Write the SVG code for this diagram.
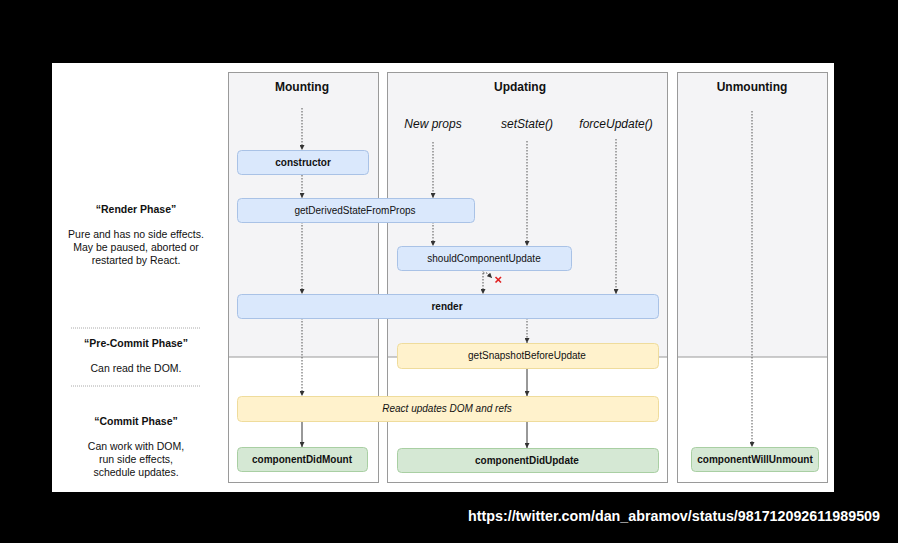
<svg xmlns="http://www.w3.org/2000/svg" width="898" height="543" viewBox="0 0 898 543">
<defs>
<marker id="ah" viewBox="0 0 6 6" markerWidth="5" markerHeight="5" refX="6" refY="3" orient="auto" markerUnits="userSpaceOnUse">
<path d="M0,0 L6,3 L0,6 z" fill="#333"/>
</marker>
<style>
text{font-family:"Liberation Sans",Arial,sans-serif;fill:#111}
.title{font-size:12px;font-weight:bold;text-anchor:middle}
.trig{font-size:12px;font-style:italic;text-anchor:middle}
.lbl{font-size:10px;text-anchor:middle}
.b{font-weight:bold}
.i{font-style:italic}
.side{font-size:10.5px;text-anchor:middle}
.col{fill:#f4f4f6;stroke:none}
.colb{fill:none;stroke:#9a9a9a;stroke-width:1}
.sep{stroke:#9a9a9a;stroke-width:1}
.blue{fill:#dae8fc;stroke:#a9c2e6;stroke-width:1}
.yellow{fill:#fff2cc;stroke:#efdc9c;stroke-width:1}
.green{fill:#d5e8d4;stroke:#a9cfa3;stroke-width:1}
.dot{fill:none;stroke:#555;stroke-width:1;stroke-dasharray:1.5 1.5}
.solid{fill:none;stroke:#333;stroke-width:1}
.pl{stroke:#aaa;stroke-width:1;stroke-dasharray:1 1}
</style>
</defs>
<rect x="0" y="0" width="898" height="543" fill="#000"/>
<rect x="52" y="63" width="782" height="429" fill="#fff"/>

<g id="col-mounting">
<rect class="col" x="228" y="72" width="150" height="285"/>
<line class="sep" x1="228" y1="357" x2="378" y2="357"/>
<rect class="colb" x="228.5" y="72.5" width="150" height="410"/>
<text class="title" x="302" y="91">Mounting</text>
</g>
<g id="col-updating">
<rect class="col" x="387" y="72" width="281" height="285"/>
<line class="sep" x1="387" y1="357" x2="668" y2="357"/>
<rect class="colb" x="387.5" y="72.5" width="280" height="410"/>
<text class="title" x="520" y="91">Updating</text>
<text class="trig" x="433" y="128">New props</text>
<text class="trig" x="527" y="128">setState()</text>
<text class="trig" x="616" y="128">forceUpdate()</text>
</g>
<g id="col-unmounting">
<rect class="col" x="677" y="72" width="150" height="285"/>
<line class="sep" x1="677" y1="357" x2="827" y2="357"/>
<rect class="colb" x="677.5" y="72.5" width="150" height="410"/>
<text class="title" x="752" y="91">Unmounting</text>
</g>

<g id="phases">
<text class="side b" x="136" y="213">“Render Phase”</text>
<text class="side" x="136" y="238">Pure and has no side effects.</text>
<text class="side" x="136" y="251">May be paused, aborted or</text>
<text class="side" x="136" y="264">restarted by React.</text>
<line class="pl" x1="71" y1="328" x2="200" y2="328"/>
<text class="side b" x="136" y="347">“Pre-Commit Phase”</text>
<text class="side" x="136" y="372">Can read the DOM.</text>
<line class="pl" x1="71" y1="386" x2="200" y2="386"/>
<text class="side b" x="136" y="425">“Commit Phase”</text>
<text class="side" x="136" y="450">Can work with DOM,</text>
<text class="side" x="136" y="463">run side effects,</text>
<text class="side" x="136" y="476">schedule updates.</text>
</g>

<g id="connectors">
<line class="dot" x1="302" y1="108" x2="302" y2="150" marker-end="url(#ah)"/>
<line class="dot" x1="302" y1="175" x2="302" y2="198" marker-end="url(#ah)"/>
<line class="dot" x1="302" y1="222" x2="302" y2="294" marker-end="url(#ah)"/>
<line class="dot" x1="302" y1="318" x2="302" y2="396" marker-end="url(#ah)"/>
<line class="solid" x1="302" y1="422" x2="302" y2="447" marker-end="url(#ah)"/>
<line class="dot" x1="433" y1="142" x2="433" y2="198" marker-end="url(#ah)"/>
<line class="dot" x1="433" y1="222" x2="433" y2="246" marker-end="url(#ah)"/>
<line class="dot" x1="527" y1="141" x2="527" y2="246" marker-end="url(#ah)"/>
<line class="dot" x1="616" y1="139" x2="616" y2="294" marker-end="url(#ah)"/>
<line class="dot" x1="483" y1="270" x2="483" y2="294" marker-end="url(#ah)"/>
<path class="dot" d="M483,273 H487 L492,278" marker-end="url(#ah)"/>
<g stroke="#e02020" stroke-width="1.6">
<line x1="495.5" y1="277" x2="501" y2="282.5"/>
<line x1="501" y1="277" x2="495.5" y2="282.5"/>
</g>
<line class="dot" x1="527" y1="318" x2="527" y2="343" marker-end="url(#ah)"/>
<line class="solid" x1="527" y1="369" x2="527" y2="396" marker-end="url(#ah)"/>
<line class="solid" x1="527" y1="422" x2="527" y2="448" marker-end="url(#ah)"/>
<line class="dot" x1="752" y1="111" x2="752" y2="447" marker-end="url(#ah)"/>
</g>

<g id="constructor">
<rect class="blue" x="237.5" y="150.5" width="131" height="24" rx="4"/>
<text class="lbl b" x="303" y="166">constructor</text>
</g>
<g id="getDerivedStateFromProps">
<rect class="blue" x="237.5" y="198.5" width="237" height="24" rx="4"/>
<text class="lbl" x="355" y="214">getDerivedStateFromProps</text>
</g>
<g id="shouldComponentUpdate">
<rect class="blue" x="397.5" y="246.5" width="174" height="24" rx="4"/>
<text class="lbl" x="484" y="262">shouldComponentUpdate</text>
</g>
<g id="render">
<rect class="blue" x="237.5" y="294.5" width="421" height="24" rx="4"/>
<text class="lbl b" x="447" y="310">render</text>
</g>
<g id="getSnapshotBeforeUpdate">
<rect class="yellow" x="397.5" y="343.5" width="261" height="25" rx="4"/>
<text class="lbl" x="527" y="359">getSnapshotBeforeUpdate</text>
</g>
<g id="reactUpdatesDOM">
<rect class="yellow" x="237.5" y="396.5" width="421" height="25" rx="4"/>
<text class="lbl i" x="447" y="412">React updates DOM and refs</text>
</g>
<g id="componentDidMount">
<rect class="green" x="237.5" y="447.5" width="130" height="24" rx="4"/>
<text class="lbl b" x="302" y="463">componentDidMount</text>
</g>
<g id="componentDidUpdate">
<rect class="green" x="397.5" y="448.5" width="261" height="24" rx="4"/>
<text class="lbl b" x="527" y="464">componentDidUpdate</text>
</g>
<g id="componentWillUnmount">
<rect class="green" x="691.5" y="447.5" width="127" height="24" rx="4"/>
<text class="lbl b" x="755" y="463">componentWillUnmount</text>
</g>

<text x="468" y="521" font-size="14" font-weight="bold" textLength="412" lengthAdjust="spacingAndGlyphs" style="fill:#fff">https://twitter.com/dan_abramov/status/981712092611989509</text>
</svg>
